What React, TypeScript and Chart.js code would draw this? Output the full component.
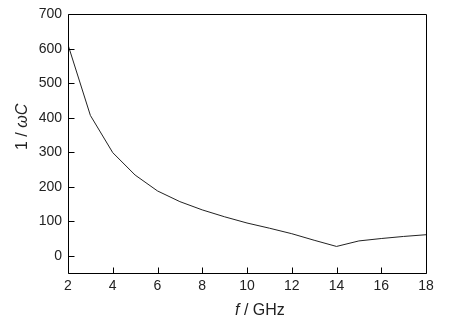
import React, { useEffect, useRef } from "react";
import { Chart, registerables } from "chart.js";

Chart.register(...registerables);

const frequencies = [2, 3, 4, 5, 6, 7, 8, 9, 10, 11, 12, 13, 14, 15, 16, 17, 18];
const reactance = [612, 407, 299, 234, 188, 157, 133, 113, 95, 80, 64, 45, 27, 43, 50, 56, 61];
const xTickValues = [2, 4, 6, 8, 10, 12, 14, 16, 18];
const yTickValues = [0, 100, 200, 300, 400, 500, 600, 700];
const xTitleItalic = "f";
const xTitleRest = " / GHz";
const yTitlePlain = "1 / ";
const yTitleItalic = "\u03c9C";

const FONT = '"Liberation Sans", Arial, sans-serif';

const frameAndTitles = {
  id: "frameAndTitles",
  afterDraw(chart: any) {
    const { ctx, chartArea } = chart;
    const { left, right, top, bottom } = chartArea;
    const xs = chart.scales.x;
    const ys = chart.scales.y;
    ctx.save();
    ctx.strokeStyle = "#000";
    ctx.lineWidth = 1;
    const L = Math.round(left) + 0.5;
    const R = Math.round(right) + 0.5;
    const T = Math.round(top) + 0.5;
    const B = Math.round(bottom) + 0.5;
    ctx.beginPath();
    ctx.rect(L, T, R - L, B - T);
    ctx.stroke();
    ctx.beginPath();
    xTickValues.forEach((v) => {
      const px = Math.round(xs.getPixelForValue(v)) + 0.5;
      ctx.moveTo(px, B);
      ctx.lineTo(px, B - 6);
    });
    yTickValues.forEach((v) => {
      const py = Math.round(ys.getPixelForValue(v)) + 0.5;
      ctx.moveTo(L, py);
      ctx.lineTo(L + 6, py);
    });
    ctx.stroke();

    ctx.fillStyle = "#222";
    ctx.textBaseline = "alphabetic";
    ctx.textAlign = "left";
    let x = 235;
    ctx.font = "italic 16px " + FONT;
    ctx.fillText(xTitleItalic, x, 315);
    x += ctx.measureText(xTitleItalic).width;
    ctx.font = "16px " + FONT;
    ctx.fillText(xTitleRest, x, 315);

    ctx.translate(27, 150);
    ctx.rotate(-Math.PI / 2);
    ctx.font = "16px " + FONT;
    ctx.fillText(yTitlePlain, 0, 0);
    const w = ctx.measureText(yTitlePlain).width;
    ctx.font = "italic 16px " + FONT;
    ctx.fillText(yTitleItalic, w, 0);
    ctx.restore();
  },
};

export default function App() {
  const ref = useRef<HTMLCanvasElement | null>(null);
  useEffect(() => {
    if (!ref.current) return;
    const chart = new Chart(ref.current, {
      type: "line",
      data: {
        datasets: [
          {
            data: frequencies.map((f, i) => ({ x: f, y: reactance[i] })),
            borderColor: "#222",
            borderWidth: 1,
            pointRadius: 0,
            tension: 0,
            fill: false,
          },
        ],
      },
      options: {
        responsive: false,
        animation: false,
        devicePixelRatio: 1,
        layout: { padding: { left: 0, top: 11, right: 33, bottom: 0 } },
        plugins: { legend: { display: false }, tooltip: { enabled: false }, title: { display: false } },
        scales: {
          x: {
            type: "linear",
            min: 2,
            max: 18,
            grid: { display: false, drawTicks: false, tickLength: 0 },
            border: { display: false },
            afterBuildTicks: (s: any) => {
              s.ticks = xTickValues.map((v) => ({ value: v }));
            },
            afterFit: (s: any) => {
              s.height = 52;
            },
            ticks: {
              padding: 5,
              maxRotation: 0,
              autoSkip: false,
              color: "#222",
              font: { family: FONT, size: 14 },
            },
          },
          y: {
            type: "linear",
            min: -50,
            max: 700,
            grid: { display: false, drawTicks: false, tickLength: 0 },
            border: { display: false },
            afterBuildTicks: (s: any) => {
              s.ticks = yTickValues.map((v) => ({ value: v }));
            },
            afterFit: (s: any) => {
              s.width = 68;
            },
            ticks: {
              padding: 6,
              autoSkip: false,
              color: "#222",
              font: { family: FONT, size: 14 },
            },
          },
        },
      },
      plugins: [frameAndTitles],
    });
    return () => chart.destroy();
  }, []);
  return (
    <div style={{ position: "fixed", left: 0, top: 0, width: 459, height: 325, background: "#fff" }}>
      <canvas ref={ref} width={459} height={325} />
    </div>
  );
}
